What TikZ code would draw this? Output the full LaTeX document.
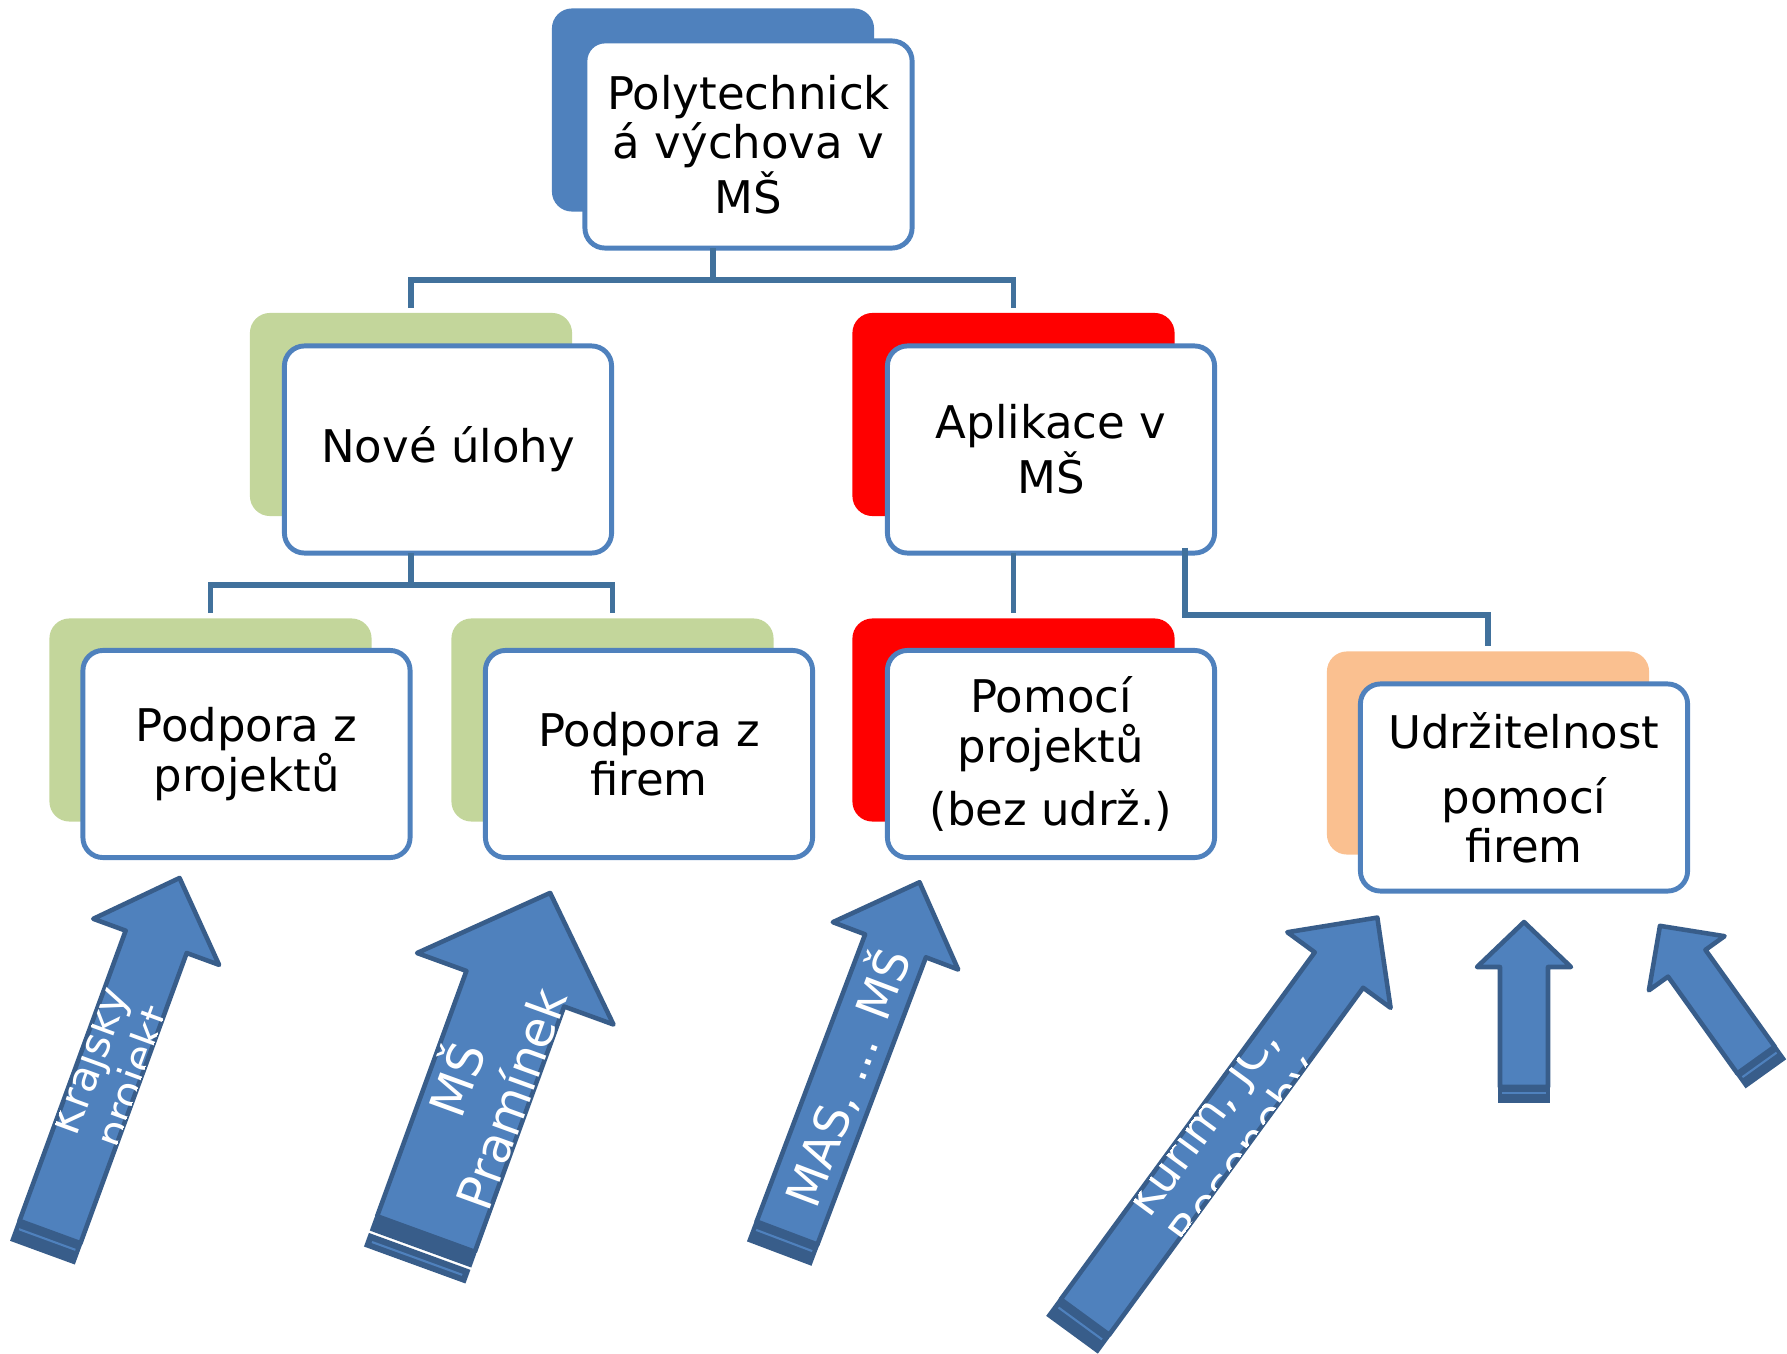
\documentclass[tikz,border=0pt]{standalone}
\usepackage{fontspec}
\setmainfont{DejaVu Sans}
\usetikzlibrary{calc}
\definecolor{accblue}{HTML}{4F81BD}
\definecolor{darkblue}{HTML}{385D8A}
\definecolor{linkblue}{HTML}{41719C}
\definecolor{backgreen}{HTML}{C3D69B}
\definecolor{backred}{HTML}{FF0000}
\definecolor{backorange}{HTML}{FAC090}
\newcommand\arrowoutline[4]{(-#2/2,0) -- (-#2/2,-#1+#4) -- (-#3/2,-#1+#4) -- (0,-#1) -- (#3/2,-#1+#4) -- (#2/2,-#1+#4) -- (#2/2,0) -- cycle}
\tikzset{
  backbox/.style={rounded corners=5.7pt, minimum width=3.22cm, minimum height=2.03cm, inner sep=0pt, outer sep=0pt, fill=#1},
  frontbox/.style={rounded corners=5.7pt, draw=accblue, line width=1.4pt, fill=white, minimum width=3.27cm, minimum height=2.07cm, inner sep=0pt, outer sep=0pt, align=center, font=\fontsize{12.8}{14}\selectfont},
  link/.style={draw=linkblue, line width=1.6pt},
  arrowbody/.style={fill=accblue, draw=darkblue, line width=1.3pt, line join=round},
  bandfill/.style={fill=darkblue},
  bandline/.style={draw=accblue, line width=0.6pt},
  arrowtext/.style={text=white, align=center, inner sep=0pt, transform shape, rotate=90},
}
\begin{document}
\begin{tikzpicture}[x=0.01cm, y=-0.01cm]
\useasboundingbox (0,0) rectangle (1787,1354);

% boxes
\node[backbox=accblue] (topB) at (713,110) {};
\node[frontbox] (top) at (748.5,144.5) {Polytechnick\\á výchova v\\MŠ};

\node[backbox=backgreen] (nuB) at (411,414.5) {};
\node[frontbox] (nu) at (448,449.5) {Nové úlohy};

\node[backbox=backred] (apB) at (1013.5,414.5) {};
\node[frontbox] (ap) at (1051,449.5) {Aplikace v\\MŠ};

\node[backbox=backgreen] (ppB) at (210.5,720) {};
\node[frontbox] (pp) at (246.5,754) {Podpora z\\projektů};

\node[backbox=backgreen] (pfB) at (612.5,720) {};
\node[frontbox] (pf) at (649,754) {Podpora z\\firem};

\node[backbox=backred] (pmB) at (1013.5,720) {};
\node[frontbox] (pm) at (1051,754) {Pomocí\\projektů\\[4pt](bez udrž.)};

\node[backbox=backorange] (udB) at (1488,753) {};
\node[frontbox] (ud) at (1524,787.5) {Udržitelnost\\[4.5pt]pomocí\\firem};

% connectors
\coordinate (j1) at (713,280);
\draw[link] (top.south -| j1) -- (j1);
\draw[link] ([yshift=1.5pt]nuB.north) |- (j1) -| ([yshift=1.5pt]apB.north);

\coordinate (j2) at (411,585);
\draw[link] (nu.south -| j2) -- (j2);
\draw[link] ([yshift=1.5pt]ppB.north) |- (j2) -| ([yshift=1.5pt]pfB.north);

\draw[link] (ap.south -| apB.center) -- ([yshift=1.5pt]pmB.north);

\coordinate (j4) at (1185,615);
\draw[link] ([yshift=1.5pt]ap.south -| j4) -- (j4) -| ([yshift=1.5pt]udB.north);

% arrow 1
\begin{scope}[shift={(50,1232)}, rotate=-20.1]
  \fill[bandfill] (-34.5,-1) rectangle (34.5,22);
  \draw[bandline] (-30,8) -- (30,8);
  \path[arrowbody] \arrowoutline{377}{65}{134}{68};
  \begin{scope}
    \clip \arrowoutline{377}{65}{134}{68};
    \node[arrowtext, font=\fontsize{12}{13.4}\selectfont] (t1) at (4,-174) {Krajský\\projekt};
  \end{scope}
\end{scope}

% arrow 2
\begin{scope}[shift={(426,1234)}, rotate=-20]
  \fill[bandfill] (-54,1.5) rectangle (54,16);
  \fill[bandfill] (-54,18.5) rectangle (54,33);
  \draw[bandline] (-48,26) -- (48,26);
  \path[arrowbody] \arrowoutline{363}{104}{209}{102};
  \begin{scope}
    \clip \arrowoutline{363}{104}{209}{102};
    \node[arrowtext, font=\fontsize{14}{16.3}\selectfont] (t2) at (1,-156) {MŠ\\Pramínek};
  \end{scope}
\end{scope}

% arrow 3
\begin{scope}[shift={(787,1233)}, rotate=-20.7]
  \fill[bandfill] (-34.5,-1) rectangle (34.5,22);
  \draw[bandline] (-30,8) -- (30,8);
  \path[arrowbody] \arrowoutline{375}{65}{134}{68};
  \begin{scope}
    \clip \arrowoutline{375}{65}{134}{68};
    \node[arrowtext, font=\fontsize{13.5}{15.7}\selectfont] (t3) at (0,-167) {MAS, ... MŠ};
  \end{scope}
\end{scope}

% arrow 4
\begin{scope}[shift={(1085,1317)}, rotate=-36.2]
  \fill[bandfill] (-32,-1) rectangle (32,22);
  \draw[bandline] (-27,8) -- (27,8);
  \path[arrowbody] \arrowoutline{495}{60}{128}{65};
  \begin{scope}
    \clip \arrowoutline{495}{60}{128}{65};
    \node[arrowtext, font=\fontsize{13}{15.2}\selectfont] (t4) at (8,-228) {Kuřim, JC,\\Bosonohy};
  \end{scope}
\end{scope}

% arrow 5
\begin{scope}[shift={(1524,1087)}]
  \fill[bandfill] (-26,-1) rectangle (26,16);
  \draw[bandline] (-22,6) -- (22,6);
  \path[arrowbody] \arrowoutline{165}{48}{94}{45};
\end{scope}

% arrow 6
\begin{scope}[shift={(1756,1060)}, rotate=35.6]
  \fill[bandfill] (-25,-1) rectangle (25,17);
  \draw[bandline] (-21,6) -- (21,6);
  \path[arrowbody] \arrowoutline{165}{46}{93}{46};
\end{scope}
\end{tikzpicture}
\end{document}
